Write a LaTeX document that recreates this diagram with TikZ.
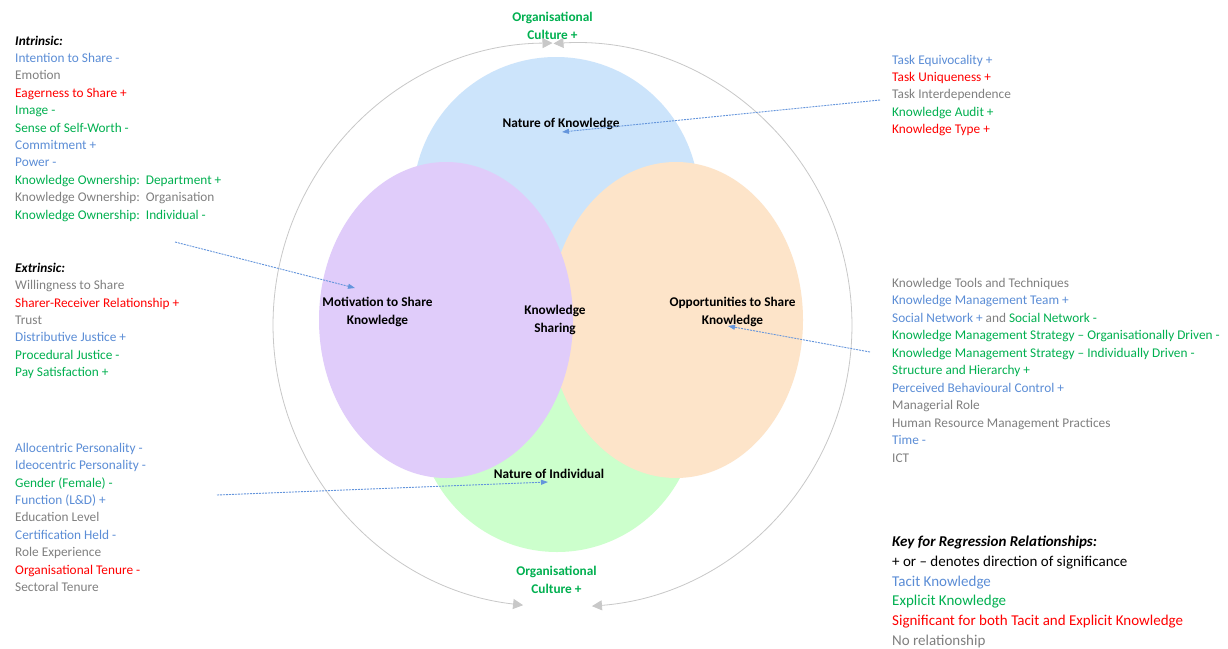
\documentclass[tikz,border=0pt]{standalone}
\usepackage{fontspec}
\setmainfont{Carlito}
\usetikzlibrary{arrows.meta,shapes.geometric}
\definecolor{tacit}{RGB}{91,141,214}
\definecolor{expl}{RGB}{0,176,80}
\definecolor{both}{RGB}{255,0,0}
\definecolor{norel}{RGB}{128,128,128}
\definecolor{kblue}{RGB}{204,228,251}
\definecolor{kpurple}{RGB}{224,204,250}
\definecolor{korange}{RGB}{253,228,201}
\definecolor{kgreen}{RGB}{204,255,204}
\definecolor{ringc}{RGB}{200,200,200}
\definecolor{linkc}{RGB}{100,149,220}
\begin{document}
\begin{tikzpicture}[x=1pt,y=-1pt,
  li/.style={anchor=base west, inner sep=0pt, font=\fontsize{13.3}{16}\selectfont\frenchspacing},
  keyl/.style={anchor=base west, inner sep=0pt, font=\fontsize{15}{18}\selectfont\frenchspacing},
  hd/.style={anchor=base west, inner sep=0pt, font=\fontsize{13.3}{16}\selectfont\bfseries\itshape},
  lbl/.style={align=center, inner sep=0pt, font=\fontsize{13.3}{17.4}\selectfont\bfseries},
  blob/.style={ellipse, draw=none, inner sep=0pt},
  ringarc/.style={draw=ringc, line width=0.8pt, {Triangle[length=10pt,width=10pt]}-{Triangle[length=10pt,width=10pt]}},
  linkarr/.style={draw=linkc, line width=0.9pt, dash pattern=on 2pt off 1pt, -{Triangle[length=7pt,width=5pt]}}
]
\fill[white] (0,0) rectangle (1228,648);
\useasboundingbox (0,0) rectangle (1228,648);

% ellipses
\node[blob, fill=kblue, minimum width=286pt, minimum height=286pt] (know) at (556,200) {};
\node[blob, fill=kgreen, minimum width=280pt, minimum height=284pt] (indiv) at (557,410) {};
\node[blob, fill=korange, minimum width=254pt, minimum height=316pt] (opp) at (676,320) {};
\node[blob, fill=kpurple, minimum width=254pt, minimum height=316pt] (motiv) at (446,320) {};

% labels in ellipses
\node[lbl] (knowl) at (561,124) {Nature of Knowledge};
\node[lbl] (indivl) at (549,474) {Nature of Individual};
\node[lbl] (motivl) at (377.5,312) {Motivation to Share\\Knowledge};
\node[lbl] (oppl) at (732.5,312) {Opportunities to Share\\Knowledge};
\node[lbl] (ksl) at (555,320) {Knowledge\\Sharing};

% organisational culture
\node[lbl, text=expl] (octop) at (552.5,26) {Organisational\\Culture +};
\node[lbl, text=expl] (ocbot) at (556.5,580) {Organisational\\Culture +};

% ring arcs
\coordinate (ringTL) at (552.5,43);
\coordinate (ringTR) at (553.5,43.5);
\draw[ringarc] (ringTL) arc[start angle=269.49, end angle=96.5, radius=282];
\draw[ringarc] (ringTR) arc[start angle=266.65, end angle=445.53, radius=282];

% left lists
\node[hd] (intr0) at (15,45) {Intrinsic:};
\foreach \txt [count=\i] in {
  {\color{tacit}Intention to Share -},
  {\color{norel}Emotion},
  {\color{both}Eagerness to Share +},
  {\color{expl}Image -},
  {\color{expl}Sense of Self-Worth -},
  {\color{tacit}Commitment +},
  {\color{tacit}Power -},
  {\color{expl}Knowledge Ownership:~~Department +},
  {\color{norel}Knowledge Ownership:~~Organisation},
  {\color{expl}Knowledge Ownership:~~Individual -}}
  \node[li] (intr\i) at (15,45+17.4*\i) {\txt};

\node[hd] (extr0) at (15,272.3) {Extrinsic:};
\foreach \txt [count=\i] in {
  {\color{norel}Willingness to Share},
  {\color{both}Sharer-Receiver Relationship +},
  {\color{norel}Trust},
  {\color{tacit}Distributive Justice +},
  {\color{expl}Procedural Justice -},
  {\color{expl}Pay Satisfaction +}}
  \node[li] (extr\i) at (15,272.3+17.4*\i) {\txt};

\foreach \txt [count=\i from 0] in {
  {\color{tacit}Allocentric Personality -},
  {\color{tacit}Ideocentric Personality -},
  {\color{expl}Gender (Female) -},
  {\color{tacit}Function (L\&D) +},
  {\color{norel}Education Level},
  {\color{tacit}Certification Held -},
  {\color{norel}Role Experience},
  {\color{both}Organisational Tenure -},
  {\color{norel}Sectoral Tenure}}
  \node[li] (pers\i) at (15,452.3+17.4*\i) {\txt};

% right lists
\foreach \txt [count=\i from 0] in {
  {\color{tacit}Task Equivocality +},
  {\color{both}Task Uniqueness +},
  {\color{norel}Task Interdependence},
  {\color{expl}Knowledge Audit +},
  {\color{both}Knowledge Type +}}
  \node[li] (task\i) at (892,64+17.4*\i) {\txt};

\foreach \txt [count=\i from 0] in {
  {\color{norel}Knowledge Tools and Techniques},
  {\color{tacit}Knowledge Management Team +},
  {\textcolor{tacit}{Social Network +} \textcolor{norel}{and} \textcolor{expl}{Social Network -}},
  {\color{expl}Knowledge Management Strategy – Organisationally Driven -},
  {\color{expl}Knowledge Management Strategy – Individually Driven -},
  {\color{expl}Structure and Hierarchy +},
  {\color{tacit}Perceived Behavioural Control +},
  {\color{norel}Managerial Role},
  {\color{norel}Human Resource Management Practices},
  {\color{tacit}Time -},
  {\color{norel}ICT}}
  \node[li] (opl\i) at (892,287.3+17.5*\i) {\txt};

% key
\node[keyl, font=\fontsize{15}{18}\selectfont\bfseries\itshape] (key0) at (892,546.5) {Key for Regression Relationships:};
\node[keyl] (key1) at (892,566) {+ or – denotes direction of significance};
\node[keyl, text=tacit] (key2) at (892,586) {Tacit Knowledge};
\node[keyl, text=expl] (key3) at (892,605.5) {Explicit Knowledge};
\node[keyl, text=both] (key4) at (892,625.5) {Significant for both Tacit and Explicit Knowledge};
\node[keyl, text=norel] (key5) at (892,645) {No relationship};

% connectors
\coordinate (c1s) at (175,242);
\coordinate (c1e) at (355,288);
\coordinate (c2s) at (217,495);
\coordinate (c2e) at (548,482);
\coordinate (c3s) at (880,100);
\coordinate (c3e) at (562,132);
\coordinate (c4s) at (870,352);
\coordinate (c4e) at (728,326);
\draw[linkarr] (c1s) -- (c1e);
\draw[linkarr] (c2s) -- (c2e);
\draw[linkarr] (c3s) -- (c3e);
\draw[linkarr] (c4s) -- (c4e);
\end{tikzpicture}
\end{document}
